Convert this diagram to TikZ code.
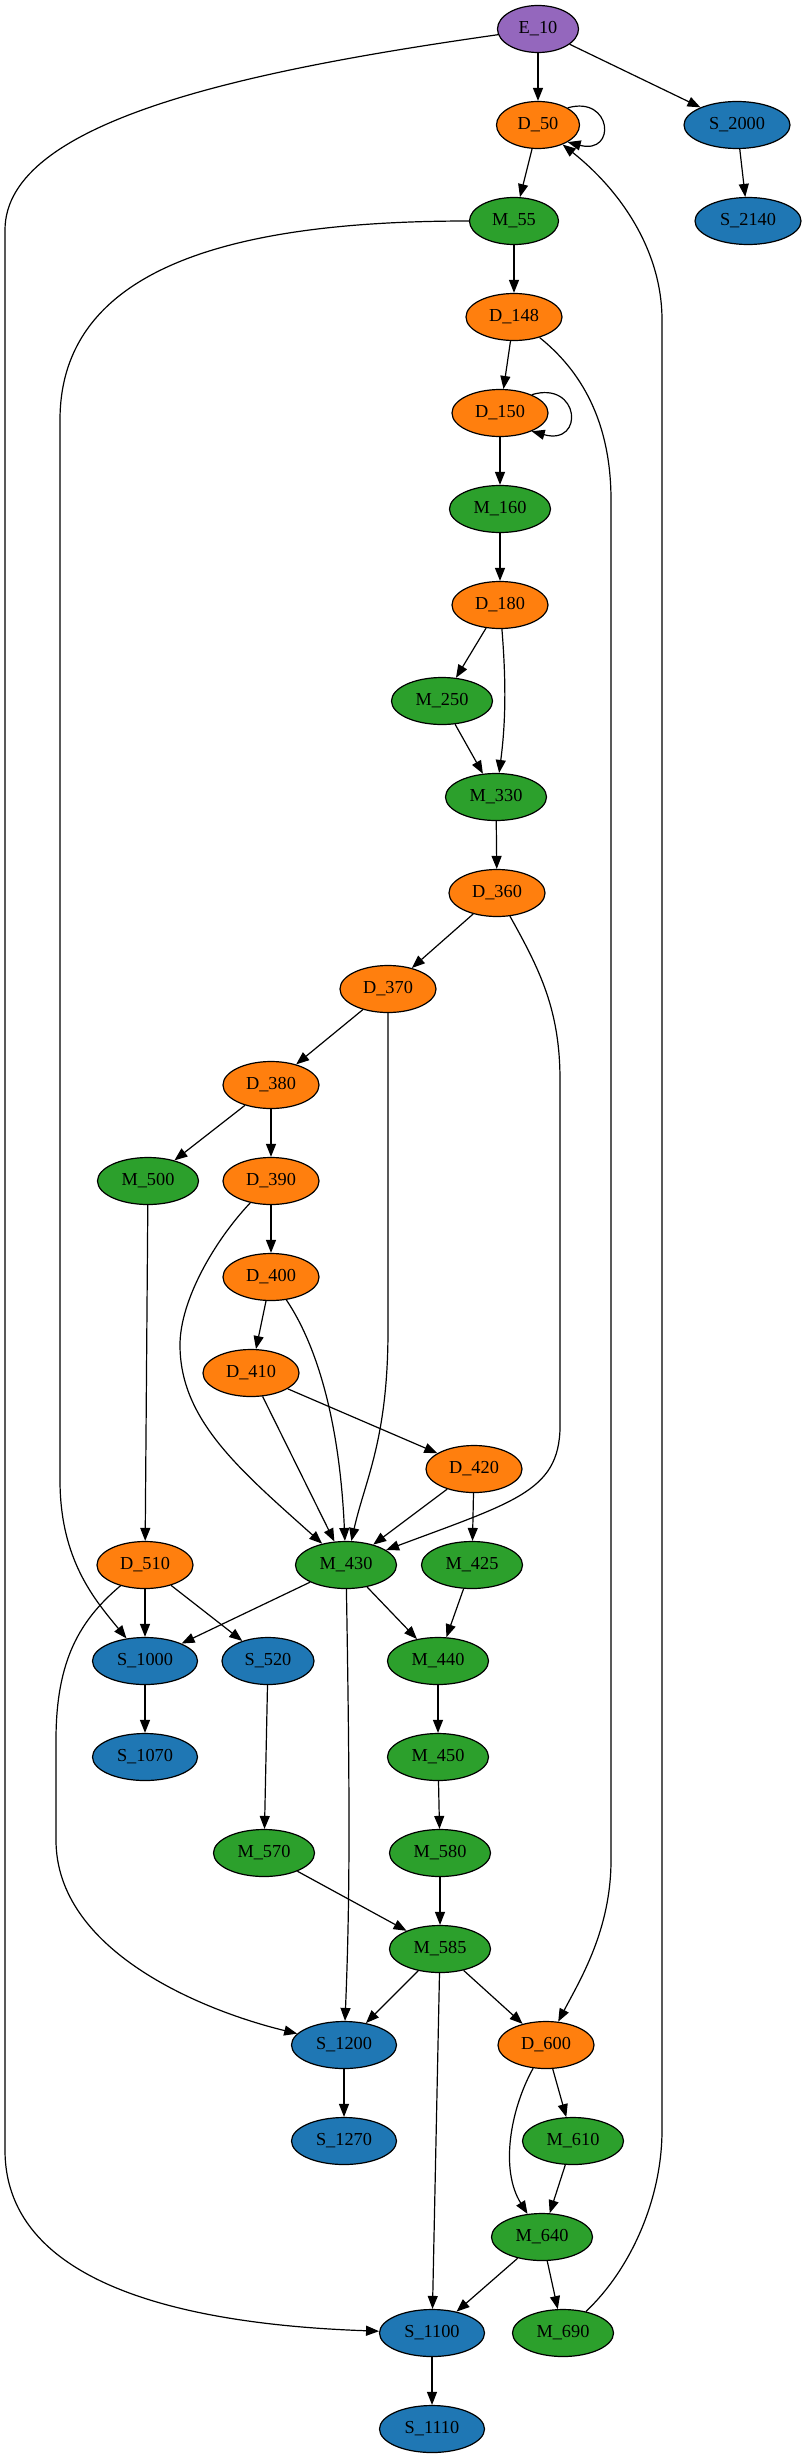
\documentclass[tikz,border=0pt]{standalone}
\usepackage{fontspec}
\setmainfont{Liberation Serif}
\usetikzlibrary{shapes.geometric,arrows.meta}
\definecolor{cpurple}{HTML}{9467BD}
\definecolor{corange}{HTML}{FF7F0E}
\definecolor{cgreen}{HTML}{2CA02C}
\definecolor{cblue}{HTML}{1F77B4}
\tikzset{
  nd/.style={ellipse, draw=black, line width=1.2pt, minimum height=47pt, inner sep=0pt,
    font=\fontsize{18.3}{22}\selectfont},
  en/.style={nd, fill=cpurple, minimum width=81pt},
  dn/.style={nd, fill=corange, minimum width=96pt},
  mn/.style={nd, fill=cgreen, minimum width=101pt},
  sn/.style={nd, fill=cblue, minimum width=105pt},
  arr/.style={line width=1.2pt, -{Triangle[length=13pt,width=10pt]}},
}
\begin{document}
\begin{tikzpicture}[x=1pt,y=-1pt]
\useasboundingbox (0,0) rectangle (805,2459);
% nodes
\node[en] (E10) at (538,29) {E\_10};
\node[dn, minimum width=83pt] (D50) at (538,125) {D\_50};
\node[sn, minimum width=106pt] (S2000) at (737,125) {S\_2000};
\node[sn, minimum width=106pt] (S2140) at (748,221) {S\_2140};
\node[mn, minimum width=89pt] (M55) at (514,221) {M\_55};
\node[dn] (D148) at (514,317) {D\_148};
\node[dn] (D150) at (500,413) {D\_150};
\node[mn] (M160) at (500,509) {M\_160};
\node[dn] (D180) at (500,605) {D\_180};
\node[mn] (M250) at (442,701) {M\_250};
\node[mn] (M330) at (496,797) {M\_330};
\node[dn] (D360) at (497,893) {D\_360};
\node[dn] (D370) at (388,989) {D\_370};
\node[dn] (D380) at (271,1085) {D\_380};
\node[mn] (M500) at (148,1181) {M\_500};
\node[dn] (D390) at (271,1181) {D\_390};
\node[dn] (D400) at (271,1277) {D\_400};
\node[dn] (D410) at (251,1373) {D\_410};
\node[dn] (D420) at (474,1469) {D\_420};
\node[dn] (D510) at (145,1565) {D\_510};
\node[mn] (M430) at (346,1565) {M\_430};
\node[mn] (M425) at (472,1565) {M\_425};
\node[sn] (S1000) at (145,1661) {S\_1000};
\node[sn, minimum width=92pt] (S520) at (268,1661) {S\_520};
\node[mn] (M440) at (438,1661) {M\_440};
\node[sn] (S1070) at (145,1757) {S\_1070};
\node[mn] (M450) at (438,1757) {M\_450};
\node[mn] (M570) at (264,1853) {M\_570};
\node[mn] (M580) at (440,1853) {M\_580};
\node[mn] (M585) at (440,1949) {M\_585};
\node[sn] (S1200) at (344,2045) {S\_1200};
\node[dn] (D600) at (546,2045) {D\_600};
\node[sn] (S1270) at (344,2141) {S\_1270};
\node[mn] (M610) at (573,2141) {M\_610};
\node[mn] (M640) at (542,2237) {M\_640};
\node[sn] (S1100) at (432,2333) {S\_1100};
\node[mn] (M690) at (563,2333) {M\_690};
\node[sn] (S1110) at (432,2429) {S\_1110};
% edges
\draw[arr] (E10) -- (D50);
\draw[arr] (E10) -- (S2000);
\draw[arr] (E10) .. controls (250,70) and (5,120) .. (5,230) -- (5,2150)
  .. controls (5,2290) and (200,2325) .. (S1100);
\draw[arr] (D50.30) .. controls (612,95) and (617,155) .. (D50.-30);
\draw[arr] (D50) -- (M55);
\draw[arr] (S2000) -- (S2140);
\draw[arr] (M55) .. controls (250,221) and (60,260) .. (60,420) -- (60,1480)
  .. controls (60,1560) and (95,1600) .. (S1000);
\draw[arr] (M55) -- (D148);
\draw[arr] (D148) -- (D150);
\draw[arr] (D148) .. controls (580,370) and (611,420) .. (611,500) -- (611,1860)
  .. controls (611,1930) and (580,1980) .. (D600);
\draw[arr] (D150.30) .. controls (580,380) and (585,446) .. (D150.-30);
\draw[arr] (D150) -- (M160);
\draw[arr] (M160) -- (D180);
\draw[arr] (D180) -- (M250);
\draw[arr] (D180) .. controls (506,680) and (506,720) .. (M330);
\draw[arr] (M250) -- (M330);
\draw[arr] (M330) -- (D360);
\draw[arr] (D360) -- (D370);
\draw[arr] (D360) .. controls (540,970) and (560,1010) .. (560,1080) -- (560,1420)
  .. controls (562,1490) and (520,1500) .. (M430);
\draw[arr] (D370) -- (D380);
\draw[arr] (D370) -- (388,1330) .. controls (388,1440) and (365,1480) .. (M430);
\draw[arr] (D380) -- (M500);
\draw[arr] (D380) -- (D390);
\draw[arr] (M500) -- (D510);
\draw[arr] (D390) -- (D400);
\draw[arr] (D390) .. controls (215,1240) and (180,1300) .. (180,1345)
  .. controls (180,1420) and (240,1470) .. (M430);
\draw[arr] (D400) -- (D410);
\draw[arr] (D400) .. controls (320,1350) and (340,1430) .. (M430);
\draw[arr] (D410) -- (D420);
\draw[arr] (D410) -- (M430);
\draw[arr] (D420) -- (M430);
\draw[arr] (D420) -- (M425);
\draw[arr] (D510) -- (S1000);
\draw[arr] (D510) -- (S520);
\draw[arr] (D510) .. controls (80,1620) and (56,1660) .. (56,1740) -- (56,1840)
  .. controls (56,1950) and (200,2010) .. (S1200);
\draw[arr] (M430) -- (S1000);
\draw[arr] (M430) -- (M440);
\draw[arr] (M430) .. controls (350,1800) and (350,1900) .. (S1200);
\draw[arr] (M425) -- (M440);
\draw[arr] (S1000) -- (S1070);
\draw[arr] (S520) -- (M570);
\draw[arr] (M440) -- (M450);
\draw[arr] (M450) -- (M580);
\draw[arr] (M570) -- (M585);
\draw[arr] (M580) -- (M585);
\draw[arr] (M585) -- (S1200);
\draw[arr] (M585) -- (D600);
\draw[arr] (M585) -- (S1100);
\draw[arr] (S1200) -- (S1270);
\draw[arr] (D600) -- (M610);
\draw[arr] (D600) .. controls (510,2110) and (500,2170) .. (M640);
\draw[arr] (M610) -- (M640);
\draw[arr] (M640) -- (S1100);
\draw[arr] (M640) -- (M690);
\draw[arr] (M690) .. controls (630,2270) and (662,2200) .. (662,2130) -- (662,320)
  .. controls (662,250) and (620,190) .. (D50);
\draw[arr] (S1100) -- (S1110);
\end{tikzpicture}
\end{document}
